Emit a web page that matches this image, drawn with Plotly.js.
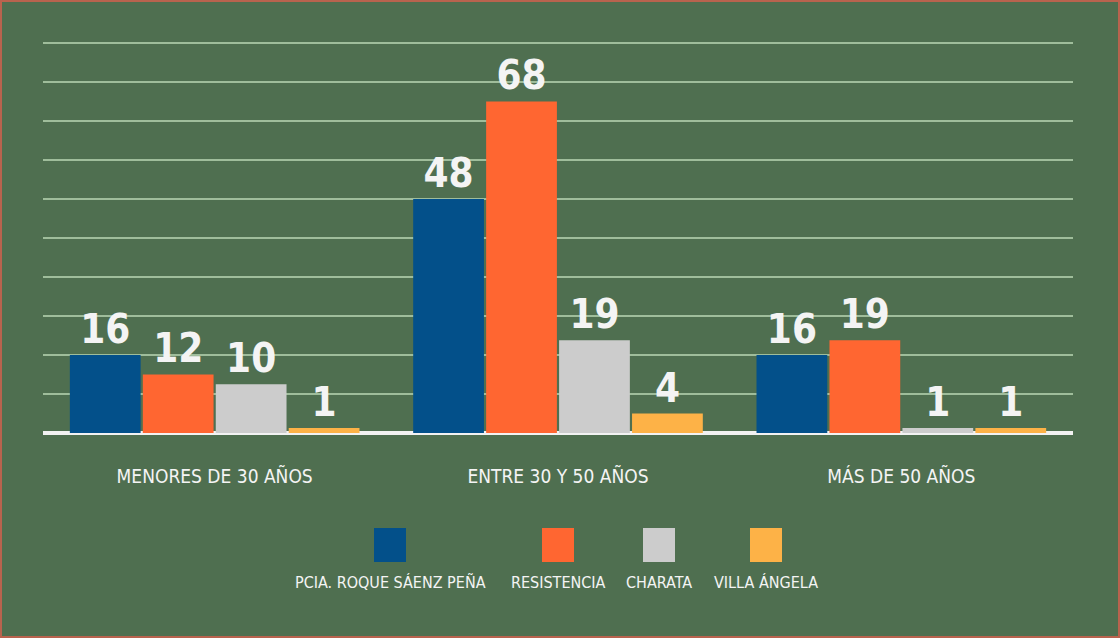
<!DOCTYPE html>
<html>
<head>
<meta charset="utf-8">
<script src="https://cdn.plot.ly/plotly-3.0.1.min.js"></script>
<style>
  html, body { margin: 0; padding: 0; background: #4f6f50; }
  #wrap { position: relative; width: 1120px; height: 638px; }
  #chart { width: 1120px; height: 638px; }
  #frame { position: absolute; left: 0; top: 0; width: 1120px; height: 638px; box-sizing: border-box;
           border: 2px solid #b9634e; pointer-events: none; }
</style>
</head>
<body>
<div id="wrap"><div id="chart"></div><div id="frame"></div></div>
<script>
const categories = ["MENORES DE 30 AÑOS", "ENTRE 30 Y 50 AÑOS", "MÁS DE 50 AÑOS"];
const seriesNames = ["PCIA. ROQUE SÁENZ PEÑA", "RESISTENCIA", "CHARATA", "VILLA ÁNGELA"];
const roqueSaenzPena = [16, 48, 16];
const resistencia = [12, 68, 19];
const charata = [10, 19, 1];
const villaAngela = [1, 4, 1];
const seriesValues = [roqueSaenzPena, resistencia, charata, villaAngela];
const seriesColors = ["#03508a", "#ff6631", "#cccccc", "#fdb247"];

const FONT = '"DejaVu Sans Condensed", "Liberation Sans Narrow", "Liberation Sans", sans-serif';
const TEXT = "#f4f4f4";

const traces = seriesValues.map((vals, i) => ({
  type: "bar",
  name: seriesNames[i],
  x: categories,
  y: vals,
  marker: { color: seriesColors[i], line: { width: 0 } },
  text: vals.map(String),
  textposition: "outside",
  constraintext: "none",
  cliponaxis: false,
  textfont: { family: FONT, size: 40, color: TEXT, weight: 700 },
  hoverinfo: "x+y+name"
}));

// plot area in pixels
const plotL = 43, plotR = 1073, plotT = 41, plotB = 433;
const yMax = 80.4;
const pw = plotR - plotL, ph = plotB - plotT;

// custom legend: coloured square above a centred label
const legendCentersPx = [390, 558, 659, 766];
const shapes = [];
const annotations = [];
seriesNames.forEach((name, i) => {
  const cx = (legendCentersPx[i] - plotL) / pw;
  const half = 16 / pw;
  shapes.push({
    type: "rect", xref: "paper", yref: "paper",
    x0: cx - half, x1: cx + half,
    y0: (plotB - 562) / ph, y1: (plotB - 528) / ph,
    fillcolor: seriesColors[i], line: { width: 0 }, layer: "above"
  });
  annotations.push({
    xref: "paper", yref: "paper", x: cx, y: (plotB - 582) / ph,
    xanchor: "center", yanchor: "middle", showarrow: false,
    text: name, font: { family: FONT, size: 16, color: TEXT }
  });
});

const layout = {
  width: 1120, height: 638,
  paper_bgcolor: "#4f6f50",
  plot_bgcolor: "#4f6f50",
  margin: { l: plotL, r: 1120 - plotR, t: plotT, b: 638 - plotB },
  barmode: "group",
  bargap: 0.15,
  bargroupgap: 0.03,
  showlegend: false,
  xaxis: {
    showgrid: false, zeroline: false, showline: false, ticks: "",
    tickfont: { family: FONT, size: 19, color: TEXT },
    ticklabelstandoff: 30
  },
  yaxis: {
    range: [0, yMax], dtick: 8, showticklabels: false, ticks: "",
    showgrid: true, gridcolor: "#9fbd9b", gridwidth: 2,
    zeroline: true, zerolinecolor: "#f2f2f2", zerolinewidth: 4,
    showline: false, fixedrange: true
  },
  shapes: shapes,
  annotations: annotations,
  font: { family: FONT, color: TEXT }
};

Plotly.newPlot("chart", traces, layout, { displayModeBar: false, staticPlot: true });
</script>
</body>
</html>
